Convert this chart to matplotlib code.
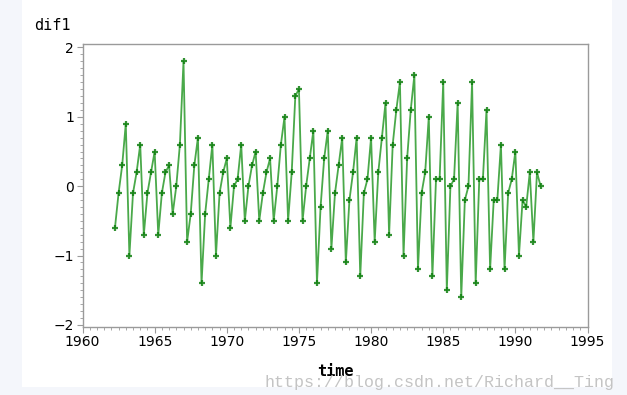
import numpy as np
import matplotlib
matplotlib.use('Agg')
import matplotlib.pyplot as plt
from matplotlib.patches import Rectangle
from matplotlib.ticker import MultipleLocator

# quarterly series, first observation 1962 Q2
start_year = 1962.25
step = 0.25
dif1 = [
    -0.6, -0.1, 0.3, 0.9, -1.0, -0.1, 0.2, 0.6, -0.7, -0.1, 0.2, 0.5,
    -0.7, -0.1, 0.2, 0.3, -0.4, 0.0, 0.6, 1.8, -0.8, -0.4, 0.3,
    0.7, -1.4, -0.4, 0.1, 0.6, -1.0, -0.1, 0.2, 0.4, -0.6, 0.0, 0.1,
    0.6, -0.5, 0.0, 0.3, 0.5, -0.5, -0.1, 0.2, 0.4, -0.5, 0.0, 0.6,
    1.0, -0.5, 0.2, 1.3, 1.4, -0.5, 0.0, 0.4, 0.8, -1.4, -0.3, 0.4,
    0.8, -0.9, -0.1, 0.3, 0.7, -1.1, -0.2, 0.2, 0.7, -1.3, -0.1,
    0.1, 0.7, -0.8, 0.2, 0.7, 1.2, -0.7, 0.6, 1.1, 1.5, -1.0, 0.4,
    1.1, 1.6, -1.2, -0.1, 0.2, 1.0, -1.3, 0.1, 0.1, 1.5, -1.5, 0.0,
    0.1, 1.2, -1.6, -0.2, 0.0, 1.5, -1.4, 0.1, 0.1, 1.1, -1.2, -0.2,
    -0.2, 0.6, -1.2, -0.1, 0.1, 0.5, -1.0, -0.2, -0.3, 0.2, -0.8, 0.2, 0.0,
]
time = start_year + step * np.arange(len(dif1))

x_ticks = [1960, 1965, 1970, 1975, 1980, 1985, 1990, 1995]
y_ticks = [-2, -1, 0, 1, 2]

fig = plt.figure(figsize=(6.27, 3.95), dpi=100)
fig.patch.set_facecolor('#f4f6fb')
# white page behind the plot
fig.patches.append(Rectangle((22 / 627, 8 / 395), 590 / 627, 387 / 395,
                             transform=fig.transFigure, facecolor='white',
                             edgecolor='none', zorder=-10))

ax = fig.add_axes([82.5 / 627, 1 - 327 / 395, 505 / 627, 283 / 395])
ax.set_facecolor('white')
ax.plot(time, dif1, color='#2a9a2a', lw=1.3, alpha=0.85,
        marker='+', ms=5, mew=1.6, mec='#0f7f0f')

ax.set_xlim(1960, 1995)
ax.set_ylim(-2.03, 2.05)
ax.set_xticks(x_ticks)
ax.set_yticks(y_ticks)
ax.xaxis.set_minor_locator(MultipleLocator(0.5))
ax.yaxis.set_minor_locator(MultipleLocator(0.1))

grey = '#9a9a9a'
for s in ax.spines.values():
    s.set_color(grey)
    s.set_linewidth(1.0)
ax.tick_params(which='major', direction='out', length=4, color=grey,
               labelsize=10, labelcolor='black', pad=2)
ax.tick_params(which='minor', direction='out', length=2.5, color=grey)

fig.text(34 / 627, 1 - 26 / 395, 'dif1', family='DejaVu Sans Mono',
         fontsize=11, va='center', ha='left')
fig.text(335 / 627, 1 - 372 / 395, 'time', family='DejaVu Sans Mono',
         fontsize=11, fontweight='bold', va='center', ha='center')
fig.text(614 / 627, 1 - 383 / 395, 'https://blog.csdn.net/Richard__Ting',
         family='Liberation Mono', fontsize=12, color='#c4c4c4',
         va='center', ha='right')

fig.savefig('out.png', dpi=100, facecolor=fig.get_facecolor())
